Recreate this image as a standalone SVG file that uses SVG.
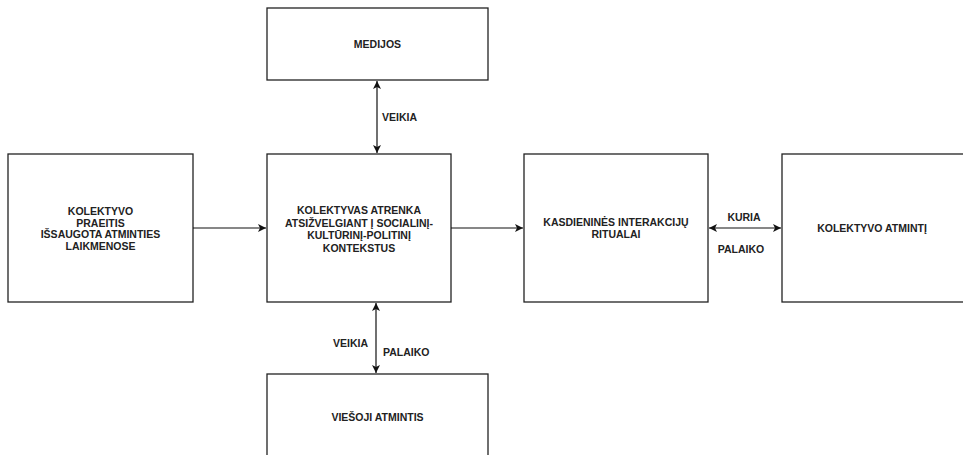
<svg xmlns="http://www.w3.org/2000/svg" width="963" height="455" viewBox="0 0 963 455">
<style>
.box{fill:#fff;stroke:#222;stroke-width:1.3}
.t{font-family:"Liberation Sans",Arial,Helvetica,sans-serif;font-size:10.5px;font-weight:bold;fill:#222;text-anchor:middle;dominant-baseline:central}
.l{font-family:"Liberation Sans",Arial,Helvetica,sans-serif;font-size:10.5px;font-weight:bold;fill:#222;dominant-baseline:central}
.c{stroke:#111;stroke-width:1.2;fill:none}
</style>
<defs>
<marker id="ah" viewBox="0 0 10 10" refX="10" refY="5" markerWidth="8" markerHeight="8" markerUnits="userSpaceOnUse" orient="auto-start-reverse">
<path d="M0,0 L10,5 L0,10 L2.5,5 Z" fill="#111"/>
</marker>
</defs>
<rect width="963" height="455" fill="#fff"/>
<g id="medijos"><rect class="box" x="267" y="8" width="221" height="72"/><text class="t" x="377.5" y="44">MEDIJOS</text></g>
<g id="praeitis"><rect class="box" x="8" y="154" width="185" height="148"/>
<text class="t" x="100.5" y="211">KOLEKTYVO</text><text class="t" x="100.5" y="222.5">PRAEITIS</text><text class="t" x="100.5" y="234">IŠSAUGOTA ATMINTIES</text><text class="t" x="100.5" y="245.5">LAIKMENOSE</text></g>
<g id="atrenka"><rect class="box" x="267" y="154" width="184" height="148"/>
<text class="t" x="359" y="210">KOLEKTYVAS ATRENKA</text><text class="t" x="359" y="222.5">ATSIŽVELGIANT Į SOCIALINĮ-</text><text class="t" x="359" y="235">KULTŪRINĮ-POLITINĮ</text><text class="t" x="359" y="247.5">KONTEKSTUS</text></g>
<g id="ritualai"><rect class="box" x="524" y="154" width="184" height="148"/>
<text class="t" x="616" y="222">KASDIENINĖS INTERAKCIJŲ</text><text class="t" x="616" y="234">RITUALAI</text></g>
<g id="atmintis"><rect class="box" x="782" y="154" width="186" height="148"/>
<text class="t" x="872" y="228">KOLEKTYVO ATMINTĮ</text></g>
<g id="viesoji"><rect class="box" x="267" y="374" width="221" height="90"/>
<text class="t" x="377.5" y="417">VIEŠOJI ATMINTIS</text></g>
<g id="connectors">
<line class="c" x1="193" y1="228" x2="266" y2="228" marker-end="url(#ah)"/>
<line class="c" x1="451" y1="228" x2="523" y2="228" marker-end="url(#ah)"/>
<line class="c" x1="709" y1="228" x2="781" y2="228" marker-start="url(#ah)" marker-end="url(#ah)"/>
<line class="c" x1="377" y1="81" x2="377" y2="153" marker-start="url(#ah)" marker-end="url(#ah)"/>
<line class="c" x1="376" y1="303" x2="376" y2="373" marker-start="url(#ah)" marker-end="url(#ah)"/>
<text class="l" x="382" y="117">VEIKIA</text>
<text class="l" x="333" y="343">VEIKIA</text>
<text class="l" x="383" y="352">PALAIKO</text>
<text class="t" x="744" y="217">KURIA</text>
<text class="t" x="741" y="249">PALAIKO</text>
</g>
</svg>
